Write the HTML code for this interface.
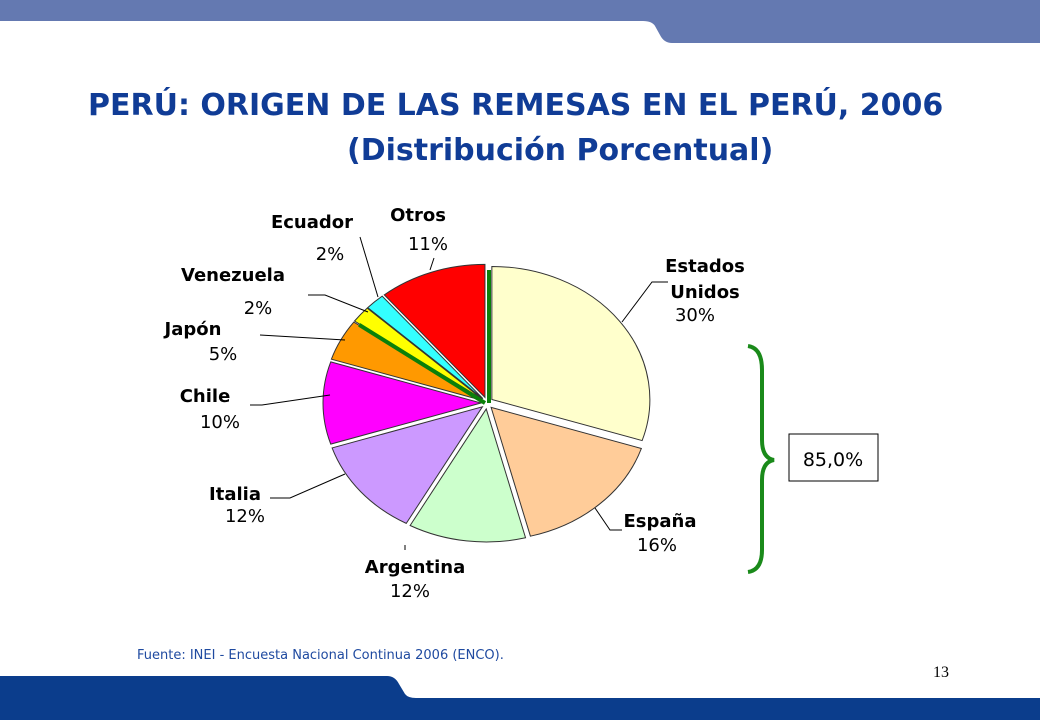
<!DOCTYPE html>
<html><head><meta charset="utf-8"><style>
body{margin:0;width:1040px;height:720px;overflow:hidden;background:#fff;font-family:"Liberation Sans","DejaVu Sans",sans-serif;}
svg{display:block}
</style></head><body>
<svg width="1040" height="720">
<path d="M0 0H1040V43H672Q664 43 660 35L655 26Q652 21 643 21H0Z" fill="#6479b1"/>
<path d="M0 676H387Q395 676 399 684L405 694Q408 698 416 698H1040V720H0Z" fill="#0b3d8c"/>
<text x="88" y="115" font-family="DejaVu Sans,sans-serif" font-weight="bold" font-size="30" fill="#103c96">PERÚ: ORIGEN DE LAS REMESAS EN EL PERÚ, 2006</text>
<text x="347" y="160" font-family="DejaVu Sans,sans-serif" font-weight="bold" font-size="30" fill="#103c96">(Distribución Porcentual)</text>
<g id="pie"></g>
<g id="labels" font-family="DejaVu Sans,sans-serif" font-size="18" fill="#000"></g>
<path d="M748 346Q762 348 762 370V440Q762 458 774 460Q762 462 762 480V550Q762 570 748 572" fill="none" stroke="#1a8a1a" stroke-width="4"/>
<rect x="789" y="434" width="89" height="47" fill="#fff" stroke="#000" stroke-width="1"/>
<text x="833" y="466" text-anchor="middle" font-family="DejaVu Sans,sans-serif" font-size="19">85,0%</text>
<text x="137" y="659" font-family="DejaVu Sans,sans-serif" font-size="13" fill="#1f4aa0">Fuente: INEI - Encuesta Nacional Continua 2006 (ENCO).</text>
<text x="933" y="677" font-family="Liberation Serif,serif" font-size="16">13</text>
</svg>
<script>
const categories=["Estados Unidos","España","Argentina","Italia","Chile","Japón","Venezuela","Ecuador","Otros"];
const values=[30,16,12,12,10,5,2,2,11];
const colors=["#ffffcc","#ffcc99","#ccffcc","#cc99ff","#ff00ff","#ff9900","#ffff00","#33ffff","#ff0000"];
const NS="http://www.w3.org/2000/svg";
const cx=487,cy=403,rx=158,ry=133,ex=6;
const pie=document.getElementById('pie');
const total=values.reduce((a,b)=>a+b,0);
function pt(t,ox,oy){return [cx+ox+rx*Math.sin(t),cy+oy-ry*Math.cos(t)];}
let acc=0;
values.forEach((v,i)=>{
  const a0=acc/total*2*Math.PI;acc+=v;const a1=acc/total*2*Math.PI;
  const m=(a0+a1)/2;const ox=ex*Math.sin(m),oy=-ex*Math.cos(m);
  const p0=pt(a0,ox,oy),p1=pt(a1,ox,oy);
  const large=(a1-a0)>Math.PI?1:0;
  const p=document.createElementNS(NS,'path');
  p.setAttribute('d',`M${cx+ox} ${cy+oy}L${p0[0]} ${p0[1]}A${rx} ${ry} 0 ${large} 1 ${p1[0]} ${p1[1]}Z`);
  p.setAttribute('fill',colors[i]);p.setAttribute('stroke','#333');p.setAttribute('stroke-width','1');
  
  
  pie.appendChild(p);
});
// green separators (at top and between Japón and Venezuela)
[0,(total-15)/total].forEach((f,k)=>{
  const t=f*2*Math.PI;const e=pt(t,0,0);
  const l=document.createElementNS(NS,'line');
  l.setAttribute('x1',cx+(k?-2:2));l.setAttribute('y1',cy);l.setAttribute('x2',e[0]+(k?0:2));l.setAttribute('y2',e[1]);
  l.setAttribute('stroke','#0a800a');l.setAttribute('stroke-width','4');
  
  
  pie.appendChild(l);
});
const lab=document.getElementById('labels');
const labelDefs=[
 [["Estados","Unidos",values[0]+"%"],[705,705,695],[272,298,321],"M622 322L652 282H668"],
 [["España",values[1]+"%"],[660,657],[527,551],"M595 508L610 530H622"],
 [["Argentina",values[2]+"%"],[415,410],[573,597],"M405 545V550"],
 [["Italia",values[3]+"%"],[235,245],[500,522],"M345 474L290 498H270"],
 [["Chile",values[4]+"%"],[205,220],[402,428],"M330 395L262 405H250"],
 [["Japón",values[5]+"%"],[193,223],[335,360],"M345 340L260 335"],
 [["Venezuela",values[6]+"%"],[233,258],[281,314],"M368 312L325 295H308"],
 [["Ecuador",values[7]+"%"],[312,330],[228,260],"M378 297L360 237"],
 [["Otros",values[8]+"%"],[418,428],[221,250],"M430 270L434 258"]
];
labelDefs.forEach((d,i)=>{
  const ln=document.createElementNS(NS,'path');
  ln.setAttribute('d',d[3]);ln.setAttribute('stroke','#000');ln.setAttribute('fill','none');ln.setAttribute('stroke-width','1');
  
  
  lab.appendChild(ln);
  d[0].forEach((s,j)=>{
    const t=document.createElementNS(NS,'text');
    t.setAttribute('x',d[1][j]);t.setAttribute('y',d[2][j]);t.setAttribute('text-anchor','middle');
    if(!s.includes('%'))t.setAttribute('font-weight','bold');
    t.textContent=s;
    
    
    lab.appendChild(t);
  });
});
</script>
</body></html>
